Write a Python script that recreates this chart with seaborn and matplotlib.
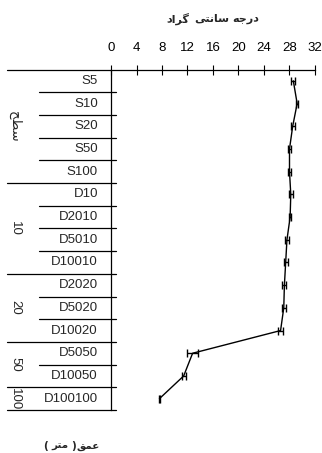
import matplotlib
matplotlib.use("Agg")
import matplotlib.pyplot as plt
import matplotlib.transforms as mtransforms
import numpy as np
import seaborn as sns

# --- data ---
ROW_LABELS = ["S5", "S10", "S20", "S50", "S100",
              "D10", "D2010", "D5010", "D10010",
              "D2020", "D5020", "D10020",
              "D5050", "D10050", "D100100"]
TEMPS = [28.6, 29.2, 28.5, 28.0, 28.0,
         28.2, 28.1, 27.6, 27.4,
         27.2, 27.1, 26.6,
         12.8, 11.4, 7.6]
TEMP_ERR = [0.3, 0.2, 0.3, 0.3, 0.3,
            0.3, 0.2, 0.3, 0.3,
            0.3, 0.3, 0.4,
            0.9, 0.3, 0.1]
# depth groups (Arabic letters as presentation forms in visual order)
GROUP_LABELS = ["\uFEA2\uFEC4\uFEB3", "10", "20", "50", "100"]  # سطح
GROUP_SIZES = [5, 4, 3, 2, 1]
X_TICKS = [0, 4, 8, 12, 16, 20, 24, 28, 32]

# title "درجه سانتی گراد", words laid out right-to-left (left to right here)
TITLE_WORDS = ["\uFEA9\uFE8D\uFEAE\uFB94",          # گراد
               "\uFBFD\uFE98\uFEE7\uFE8E\uFEB3",    # سانتی
               "\uFEEA\uFE9F\uFEAD\uFEA9"]          # درجه
TITLE_X = [178, 212, 246]
# depth label "عمق ( متر )", laid out right-to-left
DEPTH_WORDS = ["(", "\uFEAE\uFE98\uFEE3", ")", "\uFED6\uFEE4\uFECB"]
DEPTH_X = [46, 60, 74, 88]

W, H = 322, 453
AX_L, AX_R, AX_T, AX_B = 111, 315, 69.5, 410


def px_x(px):
    """pixel x -> axes fraction"""
    return (px - AX_L) / (AX_R - AX_L)


def main():
    sns.set_style("white")
    plt.rcParams["font.family"] = ["Liberation Sans", "DejaVu Sans"]

    fig = plt.figure(figsize=(W / 100, H / 100), dpi=100)
    ax = fig.add_axes([AX_L / W, 1 - AX_B / H, (AX_R - AX_L) / W, (AX_B - AX_T) / H])

    pos = np.arange(len(ROW_LABELS))
    sns.lineplot(x=TEMPS, y=pos, sort=False, orient="y", color="black",
                 linewidth=1.0, ax=ax)
    ax.errorbar(TEMPS, pos, xerr=TEMP_ERR, fmt="none", ecolor="black",
                elinewidth=1.0, capsize=3, capthick=1.0)

    ax.set_xlim(0, 32)
    ax.set_ylim(len(ROW_LABELS) - 0.5, -0.5)
    ax.xaxis.tick_top()
    ax.set_xticks(X_TICKS)
    ax.tick_params(axis="x", direction="inout", length=7, width=0.8,
                   pad=8, labelsize=9.5, colors="black")
    ax.set_yticks([])
    for side in ["bottom", "right"]:
        ax.spines[side].set_visible(False)
    for side in ["top", "left"]:
        ax.spines[side].set_color("black")
        ax.spines[side].set_linewidth(0.9)

    trans = mtransforms.blended_transform_factory(ax.transAxes, ax.transData)
    lk = dict(color="black", linewidth=0.9, transform=trans, clip_on=False)

    # top axis line extends left over the label area
    ax.plot([px_x(7), 0], [-0.5, -0.5], **lk)

    # row labels
    for p, lab in zip(pos, ROW_LABELS):
        ax.text(px_x(98), p, lab, transform=trans, ha="right", va="center",
                fontsize=9.5)

    # separator lines between rows and groups
    ends = np.cumsum(GROUP_SIZES) - 1
    for i in range(len(ROW_LABELS)):
        y = i + 0.5
        start = px_x(7) if i in ends else px_x(39)
        ax.plot([start, px_x(116)], [y, y], **lk)

    # group labels (rotated)
    starts = np.concatenate([[0], np.cumsum(GROUP_SIZES)[:-1]])
    for g, s, n in zip(GROUP_LABELS, starts, GROUP_SIZES):
        ax.text(px_x(15), s + (n - 1) / 2, g, transform=trans, rotation=-90,
                ha="center", va="center", fontsize=9.5)

    for word, x in zip(TITLE_WORDS, TITLE_X):
        fig.text(x / W, 1 - 19 / H, word, ha="center", va="center",
                 fontsize=8, fontweight="bold", family="DejaVu Sans")
    for word, x in zip(DEPTH_WORDS, DEPTH_X):
        fig.text(x / W, 1 - 446 / H, word, ha="center", va="center",
                 fontsize=7.5, fontweight="bold", family="DejaVu Sans")

    fig.savefig("out.png", dpi=100)
    plt.close(fig)


if __name__ == "__main__":
    main()
